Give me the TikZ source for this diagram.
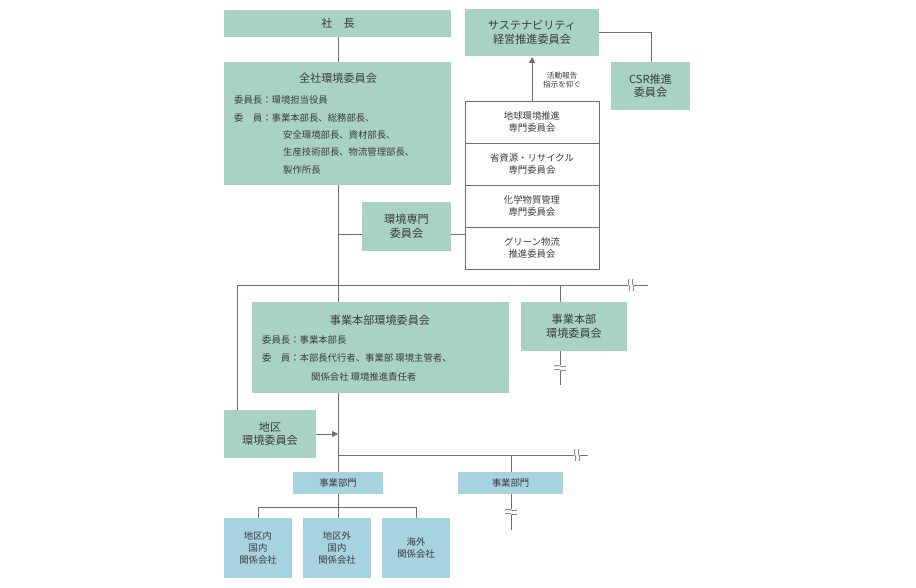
\documentclass[tikz,border=0pt]{standalone}
\usepackage{fontspec}
\setmainfont{Noto Sans CJK JP}
\usetikzlibrary{arrows.meta}
\definecolor{grn}{RGB}{168,210,194}
\definecolor{blu}{RGB}{166,211,223}
\definecolor{ink}{RGB}{60,60,60}
\definecolor{wire}{RGB}{110,110,110}
\tikzset{
  box/.style={fill=grn,inner sep=0pt},
  bluebox/.style={fill=blu,inner sep=0pt},
  cell/.style={draw=wire,fill=white,line width=0.6pt,inner sep=0pt},
  wireline/.style={draw=wire,line width=0.6pt},
  txt/.style={text=ink,font=\fontsize{8}{10}\selectfont,align=center},
  big/.style={text=ink,font=\fontsize{9.5}{11.5}\selectfont,align=center},
}
% break mark on a wire
\newcommand{\vbreak}[2]{\fill[white] (#1-6,#2-3) rectangle (#1+6,#2+3);
  \draw[wireline] (#1-6,#2-2) .. controls (#1-2,#2-5) and (#1+2,#2+1) .. (#1+6,#2-2);
  \draw[wireline] (#1-6,#2+2) .. controls (#1-2,#2-1) and (#1+2,#2+5) .. (#1+6,#2+2);}
\newcommand{\hbreak}[2]{\fill[white] (#1-3,#2-6) rectangle (#1+3,#2+6);
  \draw[wireline] (#1-2,#2-6) .. controls (#1-5,#2-2) and (#1+1,#2+2) .. (#1-2,#2+6);
  \draw[wireline] (#1+2,#2-6) .. controls (#1-1,#2-2) and (#1+5,#2+2) .. (#1+2,#2+6);}
\begin{document}
\begin{tikzpicture}[x=0.3mm,y=-0.3mm]
  \useasboundingbox (0,0) rectangle (916,588);
  % wires behind the boxes
  \draw[wireline] (338,37) -- (338,302);
  \draw[wireline] (338,234) -- (465,234);
  \draw[wireline] (237,410) -- (237,285) -- (648,285);
  \draw[wireline] (560,285) -- (560,385);
  \draw[wireline] (599,32) -- (651,32) -- (651,62);
  \draw[wireline] (338,393) -- (338,518);
  \draw[wireline] (338,455) -- (588,455);
  \draw[wireline] (511,455) -- (511,530);
  \draw[wireline] (258,518) -- (258,507) -- (416,507) -- (416,518);
  \hbreak{631}{285}
  \hbreak{577}{455}
  \vbreak{560}{368}
  \vbreak{511}{512}
  % top level
  \fill[box] (224,10) rectangle (451,37);
  \node[big] (president) at (338,23.5) {社\quad 長};
  \fill[box] (224,62) rectangle (451,185);
  \node[big] (allco) at (338,78) {全社環境委員会};
  \node[txt,anchor=west] at (230,100) {委員長：環境担当役員};
  \node[txt,anchor=west] at (230,118) {委\quad 員：事業本部長、総務部長、};
  \node[txt,anchor=west] at (279,135) {安全環境部長、資材部長、};
  \node[txt,anchor=west] at (279,152) {生産技術部長、物流管理部長、};
  \node[txt,anchor=west] at (279,170) {製作所長};
  \fill[box] (465,9) rectangle (599,56);
  \node[big] (sust) at (532,32.5) {サステナビリティ\\経営推進委員会};
  \fill[box] (611,62) rectangle (690,110);
  \node[big] (csr) at (650.5,86) {CSR推進\\委員会};
  % specialist committees
  \foreach \y/\t [count=\i] in {101/地球環境推進\\専門委員会, 143/省資源・リサイクル\\専門委員会,
      185/化学物質管理\\専門委員会, 227/グリーン物流\\推進委員会} {
    \draw[cell] (465,\y) rectangle (599,\y+42.5);
    \node[txt] (spec\i) at (532,\y+21) {\t};
  }
  \draw[wireline,-{Triangle[length=5pt,width=5pt]}] (532,101) -- (532,57);
  \node[txt,anchor=west,font=\fontsize{6.5}{8}\selectfont] (report) at (539,80) {活動報告\\指示を仰ぐ};
  \fill[box] (362,202) rectangle (451,251);
  \node[big] (envspec) at (406.5,226.5) {環境専門\\委員会};
  % division level
  \fill[box] (252,302) rectangle (509,393);
  \node[big] (divcom) at (380,320) {事業本部環境委員会};
  \node[txt,anchor=west] at (258,340) {委員長：事業本部長};
  \node[txt,anchor=west] at (258,358) {委\quad 員：本部長代行者、事業部 環境主管者、};
  \node[txt,anchor=west] at (307,377) {関係会社 環境推進責任者};
  \fill[box] (521,302) rectangle (627,351);
  \node[big] (divcom2) at (574,326.5) {事業本部\\環境委員会};
  \fill[box] (224,410) rectangle (316,458);
  \node[big] (area) at (270,434) {地区\\環境委員会};
  \draw[wireline,-{Triangle[length=5pt,width=5pt]}] (316,434) -- (338,434);
  % business units
  \fill[bluebox] (293,472) rectangle (383,494);
  \node[txt] (unit1) at (338,483) {事業部門};
  \fill[bluebox] (458,472) rectangle (563,494);
  \node[txt] (unit2) at (510.5,483) {事業部門};
  \foreach \x/\t [count=\i] in {224/地区内\\国内\\関係会社, 303/地区外\\国内\\関係会社, 382/海外\\関係会社} {
    \fill[bluebox] (\x,518) rectangle (\x+68,578);
    \node[txt] (aff\i) at (\x+34,548) {\t};
  }
\end{tikzpicture}
\end{document}
